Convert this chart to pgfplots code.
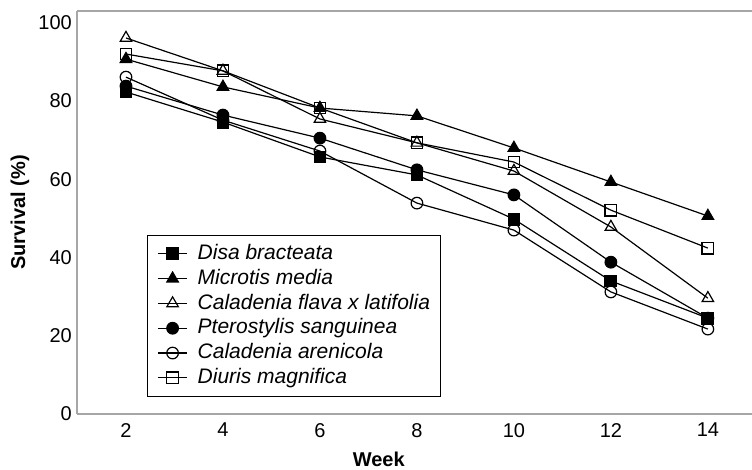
\documentclass[border=0pt]{standalone}
\usepackage{fontspec}
\setmainfont{Liberation Sans}
\usepackage{pgfplots}
\usepackage{pgfplotstable}
\pgfplotsset{compat=1.18}
\definecolor{axgray}{HTML}{A6A6A6}

\pgfplotstableread{
week disa microtis flava ptero aren diuris
2  82.3 90.7 96.1 83.8 86.1 92.0
4  74.6 83.6 87.7 76.4 75.1 87.7
6  65.7 78.2 75.4 70.5 67.2 78.2
8  61.1 76.2 69.3 62.4 53.9 69.3
10 49.8 68.0 62.1 56.0 47.0 64.4
12 34.0 59.3 47.8 38.8 31.2 52.1
14 24.5 50.6 29.6 24.5 21.7 42.4
}\datatable

\pgfplotsset{
  sdisa/.style={black, line width=1.2pt, mark=square*, mark size=5.8pt, mark options={solid, fill=black}},
  smicro/.style={black, line width=1.2pt, mark=triangle*, mark size=6.6pt, mark options={solid, fill=black}},
  sflava/.style={black, line width=1.2pt, mark=triangle, mark size=6.6pt, mark options={solid, fill=white}},
  sptero/.style={black, line width=1.2pt, mark=*, mark size=5.8pt, mark options={solid, fill=black}},
  saren/.style={black, line width=1.2pt, mark=o, mark size=5.8pt, mark options={solid, fill=white}},
  sdiuris/.style={black, line width=1.2pt, mark=square, mark size=5.8pt, mark options={solid, fill=white}},
}

\begin{document}
\begin{tikzpicture}
\useasboundingbox (-77pt,-56pt) rectangle (675pt,414pt);
\begin{axis}[
  at={(0,0)}, anchor=south west,
  scale only axis, width=675pt, height=403pt,
  xmin=0.99, xmax=14.91, ymin=0, ymax=103,
  xtick={2,4,...,14}, ytick={0,20,...,100},
  major tick length=0pt,
  axis y line*=left,
  axis line style={axgray, line width=1.5pt},
  /pgf/number format/assume math mode=true,
  ticklabel style={font=\fontsize{20}{24}\selectfont},
  yticklabel style={inner sep=0pt, xshift=-5pt},
  xticklabel style={inner sep=0pt, yshift=-9pt},
  xlabel={Week},
  xlabel style={at={(axis description cs:0.447,-0.1117)}, anchor=center, font=\fontsize{20}{24}\selectfont\bfseries},
  ylabel={Survival (\%)},
  ylabel style={at={(axis description cs:-0.0844,0.5)}, anchor=center, font=\fontsize{20}{24}\selectfont\bfseries},
  legend image code/.code={\draw[mark repeat=2,mark phase=2,#1] plot coordinates {(0pt,0pt) (14.5pt,0pt) (29pt,0pt)};},
  legend cell align=left,
  legend style={at={(axis description cs:0.1037,0.0422)}, anchor=south west,
    draw=black, line width=1pt, font=\fontsize{21}{24}\selectfont\itshape,
    inner xsep=10pt, inner ysep=6.25pt, row sep=0pt,
    nodes={inner sep=0pt, text height=18.05pt, text depth=6.75pt},
    /tikz/every odd column/.append style={column sep=10pt}},
]
\addplot[sdiuris, forget plot] table[x=week,y=diuris]{\datatable};
\addplot[sflava, forget plot] table[x=week,y=flava]{\datatable};
\addplot[saren, forget plot] table[x=week,y=aren]{\datatable};
\addplot[smicro, forget plot] table[x=week,y=microtis]{\datatable};
\addplot[sptero, forget plot] table[x=week,y=ptero]{\datatable};
\addplot[sdisa, forget plot] table[x=week,y=disa]{\datatable};

\addlegendimage{sdisa}
\addlegendentry{Disa bracteata}
\addlegendimage{smicro}
\addlegendentry{Microtis media}
\addlegendimage{sflava}
\addlegendentry{Caladenia flava x latifolia}
\addlegendimage{sptero}
\addlegendentry{Pterostylis sanguinea}
\addlegendimage{saren}
\addlegendentry{Caladenia arenicola}
\addlegendimage{sdiuris}
\addlegendentry{Diuris magnifica}
\end{axis}
\end{tikzpicture}
\end{document}
